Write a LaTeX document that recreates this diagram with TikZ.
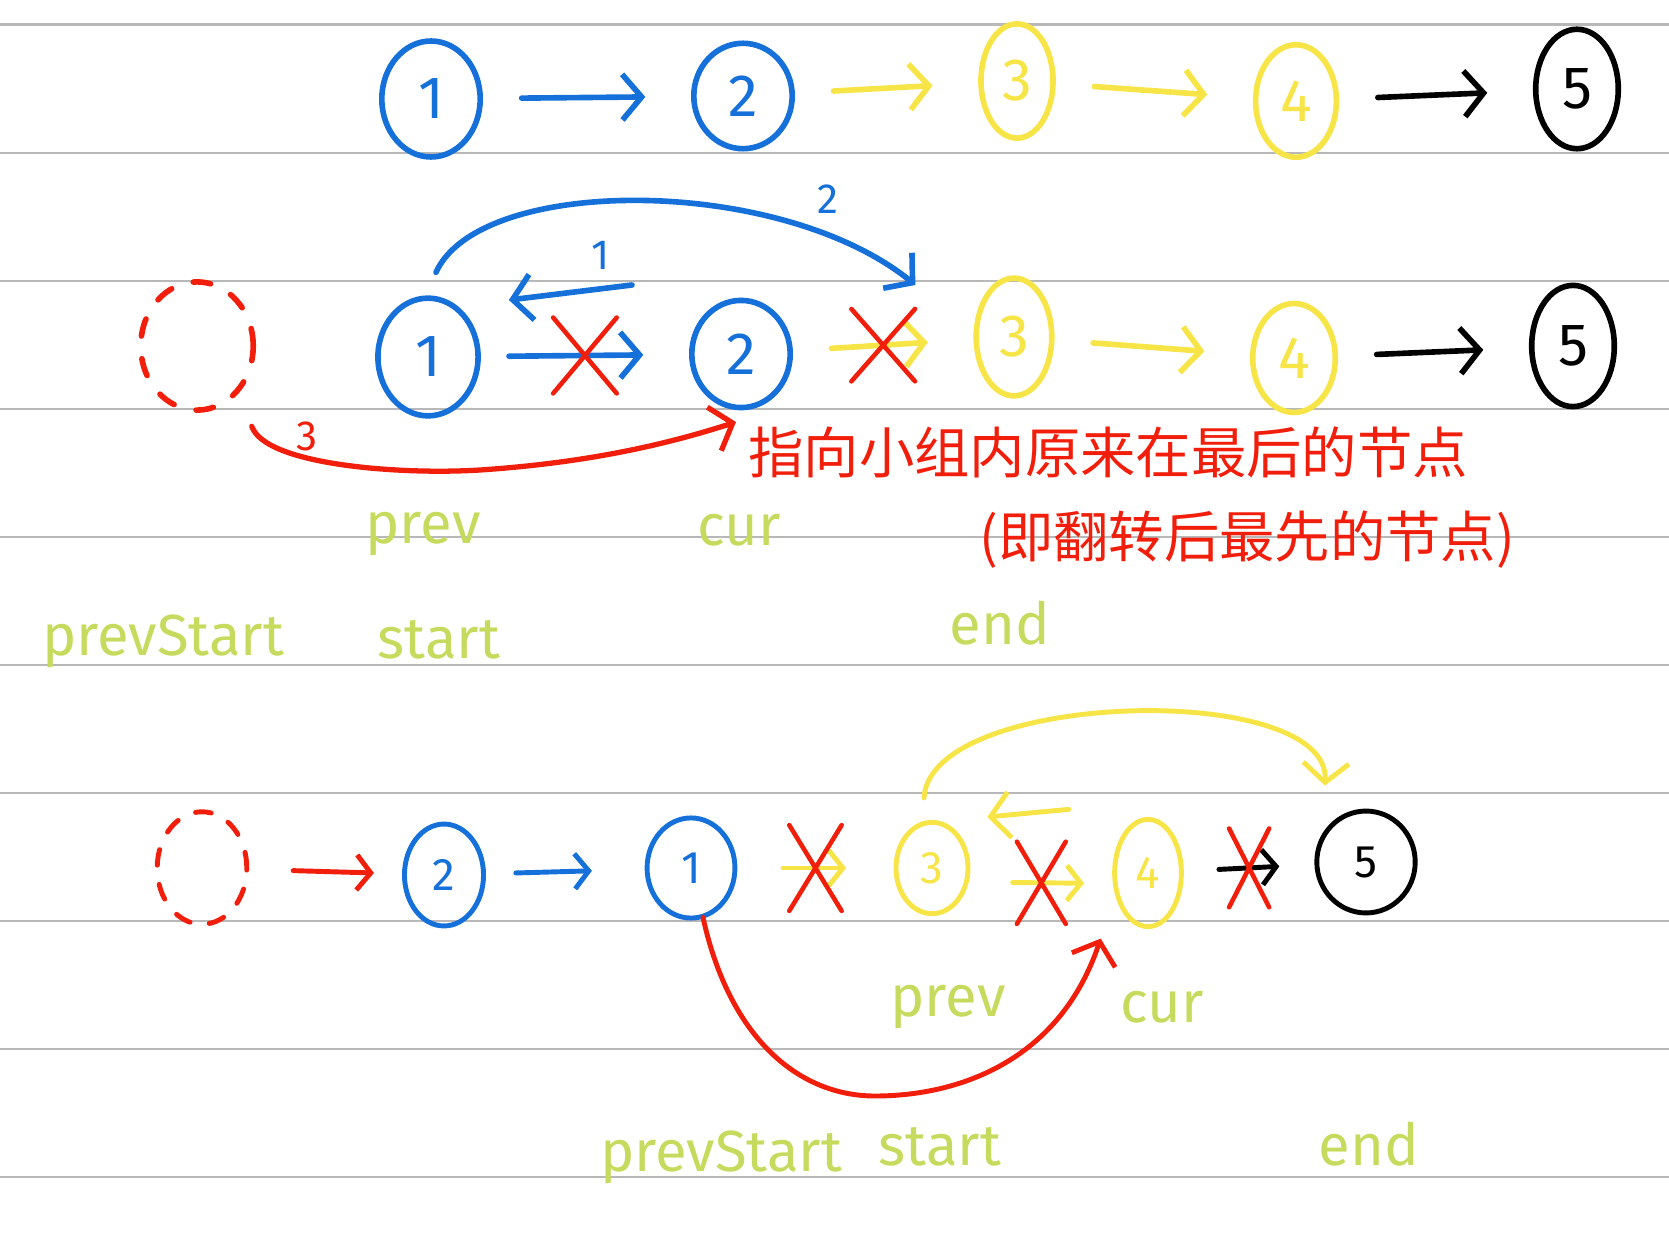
\documentclass[tikz,border=0pt]{standalone}
\usepackage{fontspec}
\setmainfont{Fira Sans}
\newfontfamily\cjk{Noto Sans CJK SC}
\usetikzlibrary{arrows.meta,calc,positioning,shapes.geometric}

\definecolor{inkblue}{HTML}{1570DA}
\definecolor{inkyellow}{HTML}{F7E547}
\definecolor{inkred}{HTML}{F01E0A}
\definecolor{inkgreen}{HTML}{C6DB5D}
\definecolor{rulegray}{HTML}{B8B8B8}

\begin{document}
\begin{tikzpicture}[x=0.02cm,y=-0.02cm,>={Straight Barb[length=11pt,width=26pt]},
    line cap=round, line join=round,
    nd/.style={ellipse, draw, line width=3.2pt, inner sep=0pt, font=\fontsize{34}{34}\selectfont},
    sm/.style={nd, line width=2.8pt, font=\fontsize{26}{26}\selectfont},
    lnk/.style={->, line width=3.2pt, shorten <=22pt, shorten >=26pt},
    slnk/.style={->, line width=2.8pt, shorten <=20pt, shorten >=20pt, >={Straight Barb[length=8pt,width=20pt]}},
    xbox/.style={rectangle, inner sep=0pt},
    xline/.style={inkred, line width=2.6pt},
    lbl/.style={text=inkgreen, anchor=base, font=\fontsize{33}{33}\selectfont},
    note/.style={text=inkred, anchor=west, inner sep=0pt, font=\cjk\fontsize{31.5}{31.5}\selectfont},
    num/.style={font=\fontsize{24}{24}\selectfont}]
  \useasboundingbox (0,0) rectangle (1669,1239);
  \foreach \k in {0,...,9}
    \draw[rulegray, line width=1.2pt] (0,24.5+128.1*\k) -- (1669,24.5+128.1*\k);

  \node[nd, inkblue, minimum width=56pt, minimum height=66pt] (a1) at (431,99) {1};
  \node[nd, inkblue, minimum width=56pt, minimum height=60pt] (a2) at (743,96) {2};
  \node[nd, inkyellow, minimum width=41pt, minimum height=65pt] (a3) at (1017,81) {3};
  \node[nd, inkyellow, minimum width=46pt, minimum height=64pt] (a4) at (1296,101) {4};
  \node[nd, black, minimum width=47pt, minimum height=68pt] (a5) at (1577,89) {5};

  \draw[lnk, inkblue] (a1) -- (a2);
  \draw[lnk, inkyellow] (a2) -- (a3);
  \draw[lnk, inkyellow] (a3) -- (a4);
  \draw[lnk, black] (a4) -- (a5);

  \node[nd, inkred, dashed, dash pattern=on 10pt off 13pt, minimum width=64pt, minimum height=73pt] (b0) at (197,346) {};
  \node[nd, inkblue, minimum width=57pt, minimum height=67pt] (b1) at (428,357) {1};
  \node[nd, inkblue, minimum width=56pt, minimum height=61pt] (b2) at (741,354) {2};
  \node[nd, inkyellow, minimum width=43pt, minimum height=67pt] (b3) at (1014,337) {3};
  \node[nd, inkyellow, minimum width=47pt, minimum height=62pt] (b4) at (1294,358) {4};
  \node[nd, black, minimum width=47pt, minimum height=69pt] (b5) at (1573,346) {5};

  \draw[lnk, inkblue, shorten <=16pt] (b1) -- node[xbox, minimum width=33pt, minimum height=40pt] (bx1) {} (b2);
  \draw[lnk, inkyellow] (b2) -- node[xbox, minimum width=33pt, minimum height=38pt] (bx2) {} (b3);
  \draw[lnk, inkyellow] (b3) -- (b4);
  \draw[lnk, black] (b4) -- (b5);
  \draw[xline] (bx1.north west) -- (bx1.south east) (bx1.north east) -- (bx1.south west);
  \draw[xline] (bx2.north west) -- (bx2.south east) (bx2.north east) -- (bx2.south west);

  \draw[->, inkblue, line width=3.2pt] ([shift={(-57,-69)}]b2.west) -- ([shift={(28,-57)}]b1.east);
  \node[num, inkblue] (l1) at (601,255) {1};
  \draw[->, inkblue, line width=3.2pt] ([shift={(8,-23)}]b1.north)
    .. controls (480,175) and (780,175) .. ([shift={(-58,-52)}]b3.west);
  \node[num, inkblue] (l2) at (828,199) {2};

  \node[note] (note1) at (748,452) {指向小组内原来在最后的节点};
  \node[note] (note2) at (979,540) {(即翻转后最先的节点)};
  \draw[->, inkred, line width=3pt] ([shift={(13,33)}]b0.south east)
    .. controls (265,465) and (400,475) .. (480,470)
    .. controls (600,462) and (680,440) .. ([shift={(-12,-4)}]note1.north west);
  \node[num, inkred] (l3) at (307,436) {3};

  \node[lbl] (bprev) at (423,543) {prev};
  \node[lbl] (bcur) at (739,545) {cur};
  \node[lbl] (bprevstart) at (163,655) {prevStart};
  \node[lbl] (bstart) at (439,658) {start};
  \node[lbl] (bend) at (1000,644) {end};

  \node[sm, inkred, dashed, dash pattern=on 9pt off 11pt, minimum width=51pt, minimum height=64pt] (c0) at (202,868) {};
  \node[sm, inkblue, minimum width=45pt, minimum height=58pt] (c2) at (444,875) {2};
  \node[sm, inkblue, minimum width=50pt, minimum height=57pt] (c1) at (691,868) {1};
  \node[sm, inkyellow, minimum width=41pt, minimum height=52pt] (c3) at (932,868) {3};
  \node[sm, inkyellow, minimum width=38pt, minimum height=61pt] (c4) at (1148,873) {4};
  \node[sm, black, minimum width=56pt, minimum height=58pt] (c5) at (1366,862) {5};

  \draw[slnk, inkred, shorten <=25pt, shorten >=16pt] (c0) -- (c2);
  \draw[slnk, inkblue, shorten <=17pt, shorten >=30pt] (c2) -- (c1);
  \draw[slnk, inkyellow, shorten <=26pt, shorten >=27pt] (c1) -- node[xbox, minimum width=27pt, minimum height=46pt] (cx1) {} (c3);
  \draw[slnk, inkyellow, shorten <=24pt, shorten >=16pt] ([yshift=-8pt]c3.east) -- node[xbox, minimum width=25pt, minimum height=44pt] (cx2) {} ([yshift=-6pt]c4.west);
  \draw[slnk, black] (c4) -- node[xbox, minimum width=20pt, minimum height=42pt] (cx3) {} (c5);
  \draw[xline] (cx1.north west) -- (cx1.south east) (cx1.north east) -- (cx1.south west);
  \draw[xline] (cx2.north west) -- (cx2.south east) (cx2.north east) -- (cx2.south west);
  \draw[xline] (cx3.north west) -- (cx3.south east) (cx3.north east) -- (cx3.south west);

  \draw[->, inkyellow, line width=2.8pt] ([shift={(-54,-24)}]c4.north west) -- ([shift={(28,-17)}]c3.north east);
  \draw[->, inkyellow, line width=2.8pt] ([shift={(-8,-22)}]c3.north)
    .. controls (930,690) and (1330,680) .. ([shift={(-41,-23)}]c5.north);
  \draw[->, inkred, line width=2.8pt] ([shift={(12,-3)}]c1.south)
    .. controls (730,1040) and (800,1096) .. (875,1096)
    .. controls (960,1096) and (1060,1060) .. ([shift={(-22,26)}]c4.south west);

  \node[lbl] (cprev) at (948,1016) {prev};
  \node[lbl] (ccur) at (1162,1022) {cur};
  \node[lbl] (cprevstart) at (721,1171) {prevStart};
  \node[lbl] (cstart) at (940,1165) {start};
  \node[lbl] (cend) at (1369,1165) {end};
\end{tikzpicture}
\end{document}
